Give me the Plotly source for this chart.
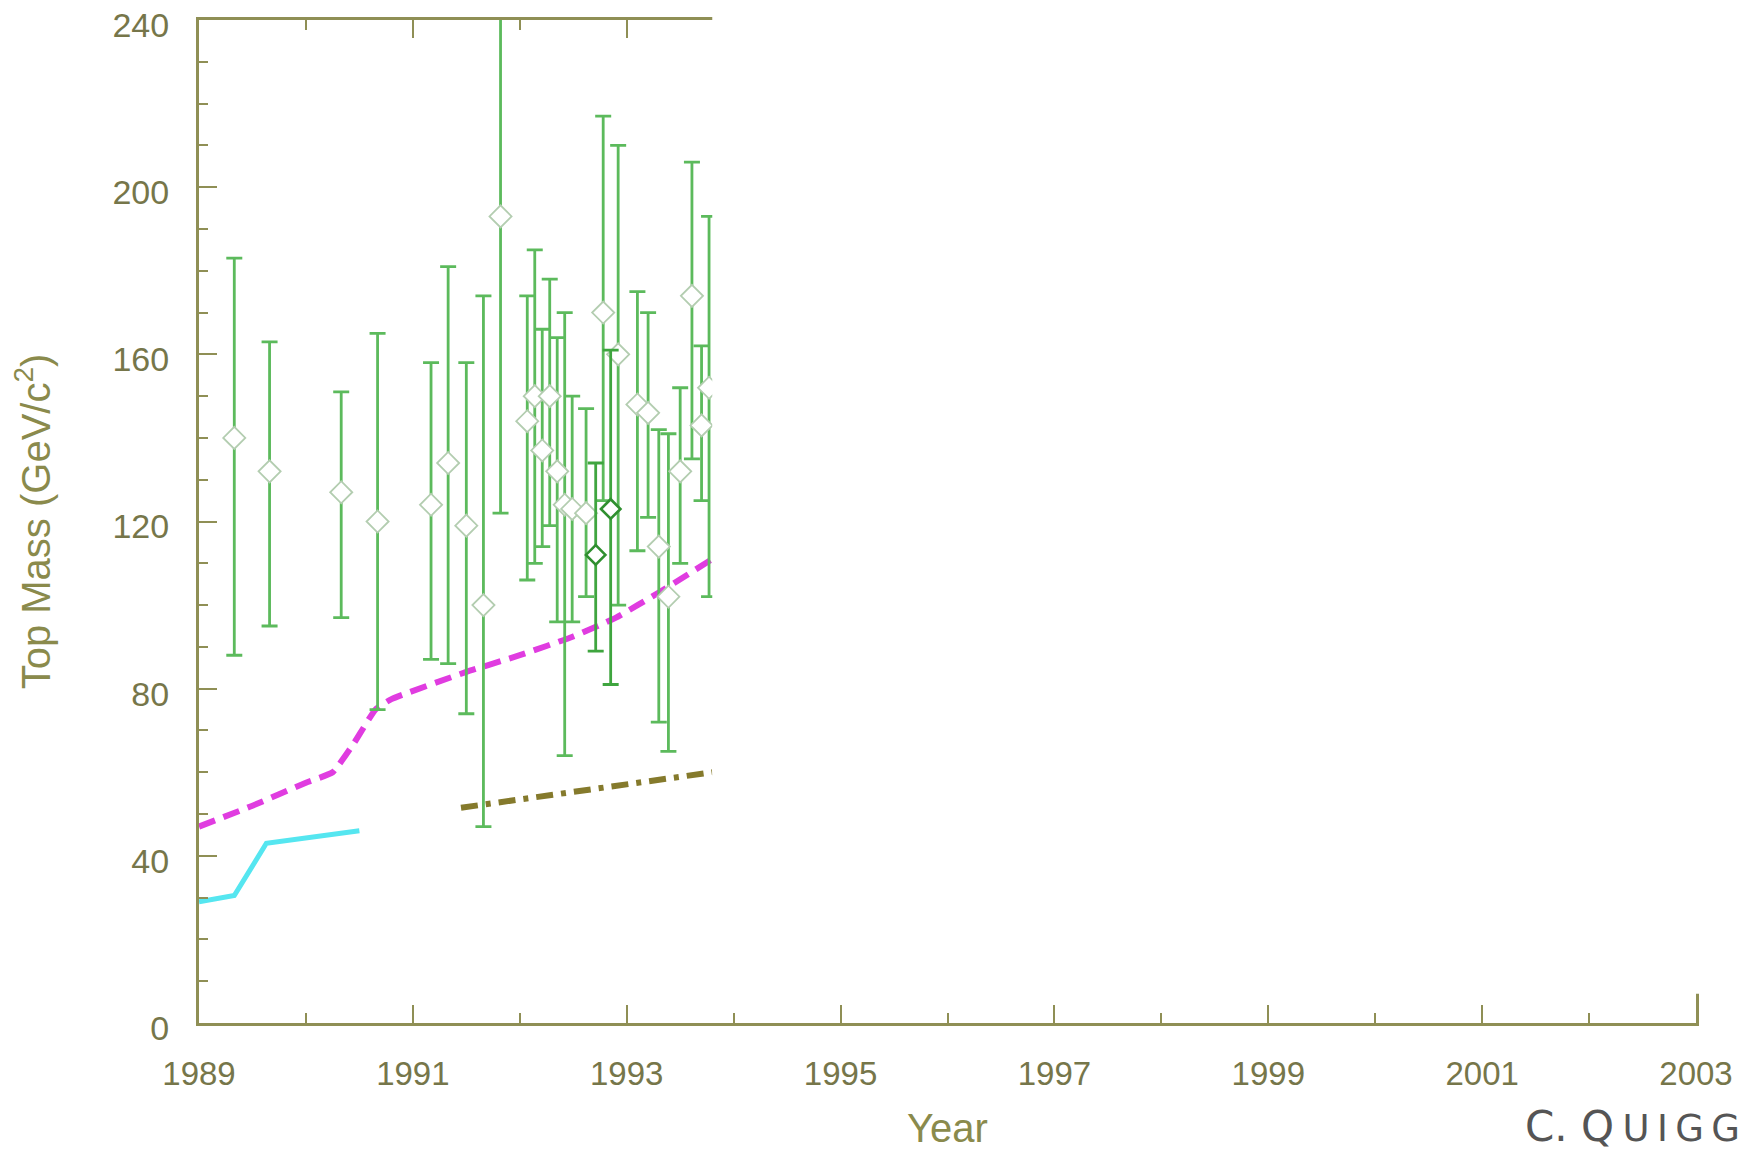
import plotly.graph_objects as go

# ---------------- data ----------------
years = [1989.33, 1989.66, 1990.33, 1990.67, 1991.17, 1991.33, 1991.50, 1991.66, 1991.82,
         1992.07, 1992.14, 1992.21, 1992.28, 1992.35, 1992.42, 1992.49, 1992.62,
         1992.78, 1992.92, 1993.10, 1993.20, 1993.30, 1993.39, 1993.50, 1993.61,
         1993.70, 1993.77]
mass = [140, 132, 127, 120, 124, 134, 119, 100, 193,
        144, 150, 137, 150, 132, 124, 123, 122,
        170, 160, 148, 146, 114, 102, 132, 174,
        143, 152]
mass_hi = [183, 163, 151, 165, 158, 181, 158, 174, 260,
           174, 185, 166, 178, 164, 170, 150, 147,
           217, 210, 175, 170, 142, 141, 152, 206,
           162, 193]
mass_lo = [88, 95, 97, 75, 87, 86, 74, 47, 122,
           106, 110, 114, 119, 96, 64, 96, 102,
           125, 100, 113, 121, 72, 65, 110, 135,
           125, 102]

dark_years = [1992.71, 1992.85]
dark_mass = [112, 123]
dark_hi = [134, 161]
dark_lo = [89, 81]

# lower bounds
pp_years = [1989.0, 1989.5, 1990.0, 1990.25, 1990.45, 1990.65, 1990.8, 1991.5, 1992.0,
            1992.5, 1992.9, 1993.3, 1993.8]
pp_mass = [47, 52, 57.5, 60, 67, 75, 77.5, 84, 88, 92.5, 97, 103, 111]

ee_years = [1989.0, 1989.33, 1989.63, 1990.5]
ee_mass = [29, 30.5, 43, 46]

ind_years = [1991.45, 1993.8]
ind_mass = [51.5, 60]

x_range = [1989, 2003]
y_range = [0, 240]
x_ticks = [1989, 1991, 1993, 1995, 1997, 1999, 2001, 2003]
y_ticks = [0, 40, 80, 120, 160, 200, 240]

# part of the frame that is hidden in the reference (build-up slide)
mask_from_year = 1993.8
mask_below_mass = 7

# ---------------- styles ----------------
AXIS = "#8f8f55"
TICKLBL = "#76764a"
TITLE = "#8a8a4c"
BAR = "#5cba5c"
FONT = "Liberation Sans, Arial, sans-serif"

fig = go.Figure()

fig.add_trace(go.Scatter(
    x=ee_years, y=ee_mass, mode="lines",
    line=dict(color="#55e6f0", width=5), hoverinfo="skip", showlegend=False))
fig.add_trace(go.Scatter(
    x=pp_years, y=pp_mass, mode="lines",
    line=dict(color="#e03ce0", width=6, dash="17px,9px", shape="spline", smoothing=0.4),
    hoverinfo="skip", showlegend=False))
fig.add_trace(go.Scatter(
    x=ind_years, y=ind_mass, mode="lines",
    line=dict(color="#857a2c", width=6, dash="17px,8px,5px,8px"),
    hoverinfo="skip", showlegend=False))

fig.add_trace(go.Scatter(
    x=years, y=mass, mode="markers",
    marker=dict(symbol="diamond", size=17, color="white",
                line=dict(color="#b3cdb0", width=1.8)),
    error_y=dict(type="data", symmetric=False,
                 array=[h - m for h, m in zip(mass_hi, mass)],
                 arrayminus=[m - l for m, l in zip(mass, mass_lo)],
                 color=BAR, thickness=2.8, width=8),
    showlegend=False))
fig.add_trace(go.Scatter(
    x=dark_years, y=dark_mass, mode="markers",
    marker=dict(symbol="diamond", size=15, color="white",
                line=dict(color="#2f8f2f", width=2.6)),
    error_y=dict(type="data", symmetric=False,
                 array=[h - m for h, m in zip(dark_hi, dark_mass)],
                 arrayminus=[m - l for m, l in zip(dark_mass, dark_lo)],
                 color="#3fa53f", thickness=2.8, width=8),
    showlegend=False))

common_axis = dict(
    showline=True, linecolor=AXIS, linewidth=3, mirror="ticks",
    ticks="inside", ticklen=18, tickwidth=2, tickcolor=AXIS,
    showgrid=False, zeroline=False, ticklabeloverflow="allow",
)

fig.update_xaxes(
    **common_axis, range=x_range, tickmode="array", tickvals=x_ticks,
    ticktext=[str(t) for t in x_ticks],
    tickfont=dict(family=FONT, size=33, color=TICKLBL),
    minor=dict(dtick=1, tick0=1989, ticks="inside", ticklen=10, tickwidth=2, tickcolor=AXIS),
    ticklabelstandoff=19,
    title=dict(text="Year", font=dict(family=FONT, size=40, color=TITLE), standoff=32),
)
fig.update_yaxes(
    **common_axis, range=y_range, tickmode="array", tickvals=y_ticks,
    ticktext=[str(t) for t in y_ticks],
    tickfont=dict(family=FONT, size=34, color=TICKLBL),
    minor=dict(dtick=10, tick0=0, ticks="inside", ticklen=9, tickwidth=2, tickcolor=AXIS),
    ticklabelstandoff=20, ticklabelshift=5,
    title=dict(text="Top Mass (GeV/c<sup>2</sup>)", font=dict(family=FONT, size=40, color=TITLE),
               standoff=52),
)

# white mask hiding the not-yet-revealed part of the frame
fig.add_shape(
    type="rect", xref="paper", yref="paper", layer="above",
    x0=(mask_from_year - x_range[0]) / (x_range[1] - x_range[0]), x1=1.2,
    y0=(mask_below_mass - y_range[0]) / (y_range[1] - y_range[0]), y1=1.2,
    fillcolor="white", line=dict(width=0))

fig.add_annotation(
    text="C. Q\u2009<span style='font-size:37px'>U\u2009I\u2009G\u2009G</span>",
    xref="paper", yref="paper", x=1.031, y=-0.103,
    xanchor="right", yanchor="middle", showarrow=False,
    font=dict(family="DejaVu Sans, sans-serif", size=42, color="#555555"))

fig.update_layout(
    width=1745, height=1142,
    margin=dict(l=191, r=57, t=12, b=127, autoexpand=False),
    paper_bgcolor="white", plot_bgcolor="white",
    showlegend=False,
)

fig.write_html("out.html")
